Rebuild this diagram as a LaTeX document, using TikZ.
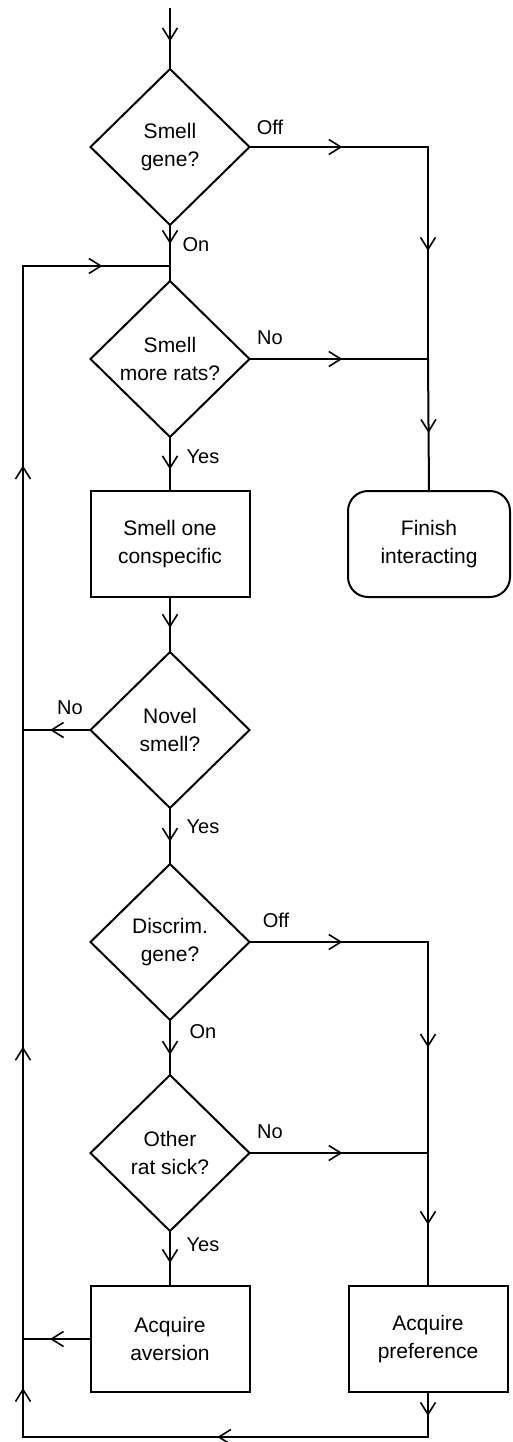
\documentclass[tikz,border=0pt]{standalone}
\usepackage{fontspec}
\setmainfont{Liberation Sans}
\usetikzlibrary{shapes.geometric,arrows.meta,decorations.markings}
\tikzset{
  ln/.style={line width=2pt,line cap=rect},
  arr/.style={ln,postaction={decorate},decoration={markings,
     mark=at position #1 with {\arrow{Straight Barb[length=12pt,width=15pt,line width=1.6pt]}}}},
  arr/.default=0.55,
  dec/.style={diamond,draw,line width=2pt,minimum width=159pt,minimum height=156pt,inner sep=0pt,outer sep=0pt,align=center,font=\fontsize{21}{28}\selectfont},
  proc/.style={rectangle,draw,line width=2pt,minimum width=159pt,minimum height=106pt,inner sep=0pt,outer sep=0pt,align=center,font=\fontsize{21}{28}\selectfont},
  term/.style={proc,rounded corners=20pt,minimum width=162pt},
  lab/.style={inner sep=0pt,font=\fontsize{20}{24}\selectfont},
}
\begin{document}
\begin{tikzpicture}[x=1pt,y=-1pt]
\useasboundingbox (0,0) rectangle (513,1442);
% nodes
\node[dec] (d1) at (170,147) {Smell\\gene?};
\node[dec] (d2) at (170,359) {Smell\\more rats?};
\node[proc] (b1) at (170,544) {Smell one\\conspecific};
\node[term] (fin) at (429,544) {Finish\\interacting};
\node[dec] (d3) at (170,730) {Novel\\smell?};
\node[dec] (d4) at (170,942) {Discrim.\\gene?};
\node[dec] (d5) at (170,1153) {Other\\rat sick?};
\node[proc] (b2) at (170,1339) {Acquire\\aversion};
\node[proc] (b3) at (428,1339) {Acquire\\preference};
% coordinates
\coordinate (start) at (170,9);
\coordinate (r1) at (428,147);
\coordinate (r2) at (428,359);
\coordinate (r4) at (428,942);
\coordinate (r5) at (428,1153);
\coordinate (bot) at (428,1437);
\coordinate (lbot) at (23,1437);
\coordinate (l5) at (23,1339);
\coordinate (l3) at (23,730);
\coordinate (ltop) at (23,266);
\coordinate (jtop) at (170,266);
% main column
\draw[arr=0.54] (start) -- (d1.north);
\draw[arr=0.46] (d1.south) -- (jtop);
\draw[ln] (jtop) -- (d2.north);
\draw[arr=0.6] (d2.south) -- (b1.north);
\draw[arr=0.56] (b1.south) -- (d3.north);
\draw[arr=0.6] (d3.south) -- (d4.north);
\draw[arr=0.63] (d4.south) -- (d5.north);
\draw[arr=0.58] (d5.south) -- (b2.north);
% right column
\draw[arr=0.52] (d1.east) -- (r1);
\draw[arr=0.49] (r1) -- (r2);
\draw[arr=0.52] (d2.east) -- (r2);
\draw[arr=0.56] (r2) -- (fin.north);
\draw[arr=0.52] (d4.east) -- (r4);
\draw[arr=0.5] (r4) -- (r5);
\draw[arr=0.52] (d5.east) -- (r5);
\draw[arr=0.54] (r5) -- (b3.north);
\draw[arr=0.53] (b3.south) -- (bot);
\draw[arr=0.52] (bot) -- (lbot);
% left loop
\draw[arr=0.5] (lbot) -- (l5);
\draw[arr=0.6] (b2.west) -- (l5);
\draw[arr=0.48] (l5) -- (l3);
\draw[arr=0.6] (d3.west) -- (l3);
\draw[arr=0.57] (l3) -- (ltop);
\draw[arr=0.54] (ltop) -- (jtop);
% labels
\node[lab] (lOff1) at (270,127) {Off};
\node[lab] (lOn1) at (196,245) {On};
\node[lab] (lNo2) at (270,338) {No};
\node[lab] (lYes2) at (203,457) {Yes};
\node[lab] (lNo3) at (70,708) {No};
\node[lab] (lYes3) at (203,827) {Yes};
\node[lab] (lOff4) at (276,920) {Off};
\node[lab] (lOn4) at (203,1032) {On};
\node[lab] (lNo5) at (270,1132) {No};
\node[lab] (lYes5) at (203,1245) {Yes};
\end{tikzpicture}
\end{document}
